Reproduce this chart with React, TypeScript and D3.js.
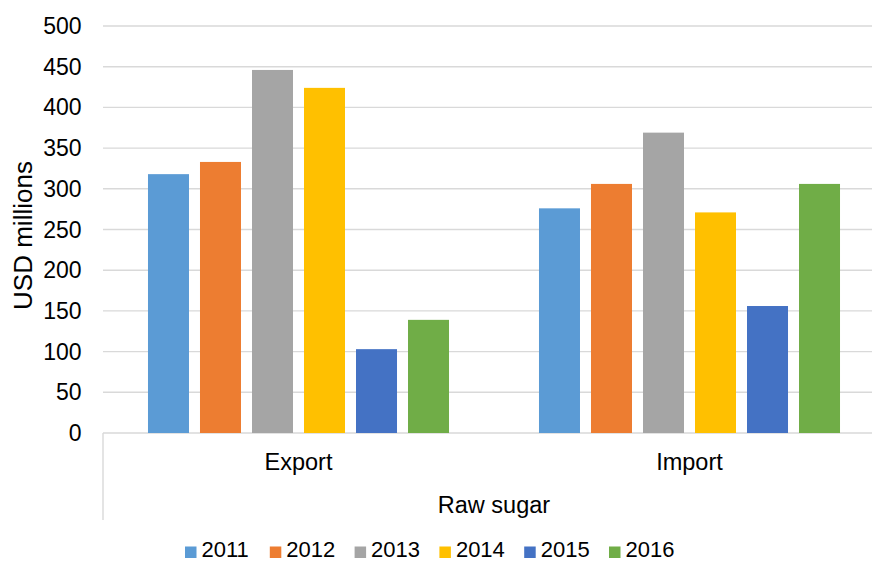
import React from "react";
import * as d3 from "d3";

const groups = ["Export", "Import"];
const years = ["2011", "2012", "2013", "2014", "2015", "2016"];
const exportValues = [318, 333, 446, 424, 103, 139];
const importValues = [276, 306, 369, 271, 156, 306];
const colors = ["#5B9BD5", "#ED7D31", "#A5A5A5", "#FFC000", "#4472C4", "#70AD47"];
const yTicks = [0, 50, 100, 150, 200, 250, 300, 350, 400, 450, 500];
const superCategory = "Raw sugar";
const yTitle = "USD millions";

const W = 872;
const H = 562;
const FONT = "Liberation Sans, Arial, sans-serif";

export default function App() {
  const left = 103;
  const right = 885;
  const top = 26;
  const bottom = 433;

  const x0 = d3.scaleBand<string>().domain(groups).range([left, right]).padding(0);
  const x1 = d3
    .scaleBand<string>()
    .domain(years)
    .range([0, x0.bandwidth()])
    .paddingInner(11 / 52)
    .paddingOuter(0.865);
  const y = d3.scaleLinear().domain([0, 500]).range([bottom, top]);

  const data = [exportValues, importValues];

  const legendX = d3.scaleBand<string>().domain(years).range([185, 185 + 84.8 * 6]);

  return (
    <svg
      width={W}
      height={H}
      style={{ position: "absolute", left: 0, top: 0, background: "#fff" }}
      fontFamily={FONT}
    >
      {yTicks.map((t) => (
        <g key={t}>
          <line x1={left} x2={W} y1={y(t)} y2={y(t)} stroke="#d9d9d9" strokeWidth={1.4} />
          <text
            x={81.5}
            y={y(t)}
            textAnchor="end"
            dominantBaseline="central"
            fontSize={23}
            fill="#000"
          >
            {t}
          </text>
        </g>
      ))}
      <line x1={left} x2={left} y1={bottom} y2={520} stroke="#d9d9d9" strokeWidth={1.4} />
      {groups.map((g, gi) =>
        years.map((yr, i) => (
          <rect
            key={g + yr}
            x={(x0(g) as number) + (x1(yr) as number)}
            y={y(data[gi][i])}
            width={x1.bandwidth()}
            height={bottom - y(data[gi][i])}
            fill={colors[i]}
          />
        ))
      )}
      {groups.map((g) => (
        <text
          key={g}
          x={(x0(g) as number) + x0.bandwidth() / 2}
          y={470}
          textAnchor="middle"
          fontSize={23.5}
          fill="#000"
        >
          {g}
        </text>
      ))}
      <text x={494} y={512.5} textAnchor="middle" fontSize={23.5} fill="#000">
        {superCategory}
      </text>
      <text
        transform={`translate(31.5, ${(top + bottom) / 2 + 6}) rotate(-90)`}
        textAnchor="middle"
        fontSize={26}
        fill="#000"
      >
        {yTitle}
      </text>
      {years.map((yr, i) => {
        const lx = legendX(yr) as number;
        return (
          <g key={yr}>
            <rect x={lx} y={546.5} width={11.5} height={11.5} fill={colors[i]} />
            <text x={lx + 16.5} y={557} fontSize={22} fill="#000">
              {yr}
            </text>
          </g>
        );
      })}
    </svg>
  );
}
